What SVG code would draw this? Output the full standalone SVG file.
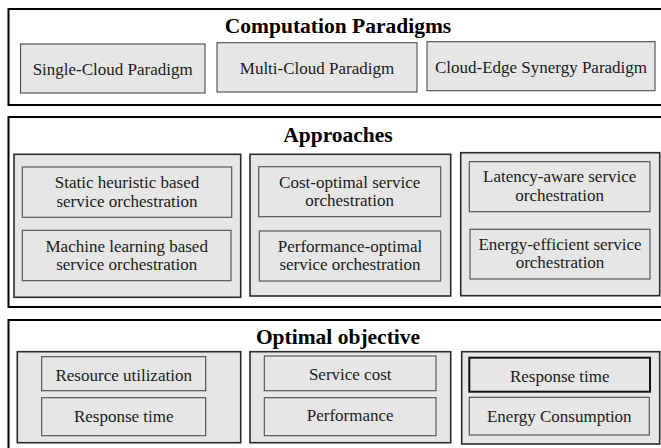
<svg xmlns="http://www.w3.org/2000/svg" width="661" height="448" viewBox="0 0 661 448" font-family="Liberation Serif, Times New Roman, serif">
  <style>
    .section { fill: #ffffff; stroke: #000000; stroke-width: 2; }
    .group { fill: #e6e6e6; stroke: #2b2b2b; stroke-width: 1.6; }
    .box { fill: #e6e6e6; stroke: #4a4a4a; stroke-width: 1.1; }
    .box-strong { fill: #e6e6e6; stroke: #111111; stroke-width: 2; }
    .title { font-weight: bold; font-size: 21.5px; fill: #000000; text-anchor: middle; }
    .label { font-size: 17px; fill: #1a1a1a; text-anchor: middle; }
  </style>

  <!-- Computation paradigms -->
  <g id="paradigms">
    <rect class="section" x="8.5" y="9" width="665" height="96"/>
    <text class="title" x="338" y="33" font-family="Liberation Serif">Computation Paradigms</text>
  </g>
  <g id="single-cloud">
    <rect class="box" x="20.5" y="44" width="184.5" height="49"/>
    <text class="label" x="112.7" y="74.5" font-family="Liberation Serif">Single-Cloud Paradigm</text>
  </g>
  <g id="multi-cloud">
    <rect class="box" x="217" y="42.7" width="200" height="49.3"/>
    <text class="label" x="317" y="73.5" font-family="Liberation Serif">Multi-Cloud Paradigm</text>
  </g>
  <g id="cloud-edge">
    <rect class="box" x="427" y="41.7" width="228" height="49"/>
    <text class="label" x="541" y="72.5" font-family="Liberation Serif">Cloud-Edge Synergy Paradigm</text>
  </g>

  <!-- Approaches -->
  <g id="approaches">
    <rect class="section" x="8.5" y="117" width="665" height="190"/>
    <text class="title" x="338" y="141.7" font-family="Liberation Serif">Approaches</text>
  </g>
  <g id="approach-methods" font-family="Liberation Serif">
    <rect class="group" x="14" y="154.3" width="226.7" height="143"/>
    <g id="static-heuristic">
      <rect class="box" x="22.3" y="167" width="209.4" height="50.3"/>
      <text class="label" x="127" y="188.3">Static heuristic based</text>
      <text class="label" x="127" y="206.7">service orchestration</text>
    </g>
    <g id="machine-learning">
      <rect class="box" x="22.3" y="230.3" width="208.7" height="50.4"/>
      <text class="label" x="126.7" y="251.7">Machine learning based</text>
      <text class="label" x="126.7" y="270">service orchestration</text>
    </g>
  </g>
  <g id="approach-goals" font-family="Liberation Serif">
    <rect class="group" x="250" y="154.3" width="200.7" height="141.7"/>
    <g id="cost-optimal">
      <rect class="box" x="258.7" y="166.7" width="182" height="50"/>
      <text class="label" x="349.7" y="188.3">Cost-optimal service</text>
      <text class="label" x="349.7" y="206.3">orchestration</text>
    </g>
    <g id="performance-optimal">
      <rect class="box" x="259.3" y="231" width="181.4" height="50"/>
      <text class="label" x="350" y="251.7">Performance-optimal</text>
      <text class="label" x="350" y="270">service orchestration</text>
    </g>
  </g>
  <g id="approach-edge" font-family="Liberation Serif">
    <rect class="group" x="460.7" y="152.7" width="199" height="143"/>
    <g id="latency-aware">
      <rect class="box" x="469.3" y="161.7" width="180.7" height="50"/>
      <text class="label" x="559.7" y="182.3">Latency-aware service</text>
      <text class="label" x="559.7" y="201">orchestration</text>
    </g>
    <g id="energy-efficient">
      <rect class="box" x="470" y="229.3" width="180" height="49.7"/>
      <text class="label" x="560" y="250">Energy-efficient service</text>
      <text class="label" x="560" y="268.3">orchestration</text>
    </g>
  </g>

  <!-- Optimal objective -->
  <g id="objective">
    <rect class="section" x="8.5" y="320" width="665" height="140"/>
    <text class="title" x="338" y="344.3" font-family="Liberation Serif">Optimal objective</text>
  </g>
  <g id="objective-methods" font-family="Liberation Serif">
    <rect class="group" x="17.3" y="351.7" width="223.4" height="91"/>
    <g id="resource-utilization">
      <rect class="box" x="41.7" y="356.7" width="164" height="34"/>
      <text class="label" x="123.7" y="380.5">Resource utilization</text>
    </g>
    <g id="response-time-1">
      <rect class="box" x="41.7" y="397.7" width="164" height="38"/>
      <text class="label" x="123.7" y="421.5">Response time</text>
    </g>
  </g>
  <g id="objective-goals" font-family="Liberation Serif">
    <rect class="group" x="250" y="351.7" width="200.7" height="91"/>
    <g id="service-cost">
      <rect class="box" x="264.3" y="356" width="171.7" height="34.7"/>
      <text class="label" x="350.2" y="380.3">Service cost</text>
    </g>
    <g id="performance">
      <rect class="box" x="264.3" y="397.7" width="171.7" height="38"/>
      <text class="label" x="350.2" y="421">Performance</text>
    </g>
  </g>
  <g id="objective-edge" font-family="Liberation Serif">
    <rect class="group" x="461.7" y="351.7" width="198" height="92.3"/>
    <g id="response-time-2">
      <rect class="box-strong" x="469.3" y="357.7" width="180.7" height="34"/>
      <text class="label" x="559.7" y="381.5">Response time</text>
    </g>
    <g id="energy-consumption">
      <rect class="box" x="469.3" y="397.3" width="180" height="37.7"/>
      <text class="label" x="559.3" y="421.5">Energy Consumption</text>
    </g>
  </g>
</svg>
